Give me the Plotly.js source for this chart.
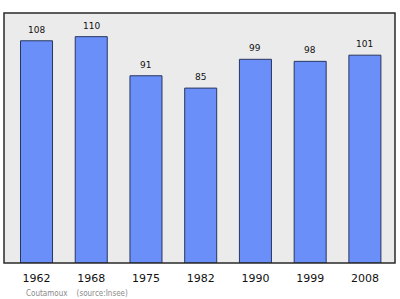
<!DOCTYPE html>
<html>
<head>
<meta charset="utf-8">
<script src="https://cdn.plot.ly/plotly-3.0.1.min.js"></script>
<style>html,body{margin:0;padding:0;background:#fff;}#chart{width:400px;height:299px;}</style>
</head>
<body>
<div id="chart"></div>
<script>
// Population by census year
const years = ['1962', '1968', '1975', '1982', '1990', '1999', '2008'];
const population = [108, 110, 91, 85, 99, 98, 101];
const footnote = 'Coutamoux\u00a0\u00a0\u00a0\u00a0(source:Insee)';

const trace = {
  type: 'bar',
  x: years,
  y: population,
  marker: {color: '#6a8ff8', line: {color: '#283660', width: 1}},
  width: 0.585,
  hoverinfo: 'none'
};

// value labels floating above each bar (x given as category index)
const valueLabels = years.map((yr, i) => ({
  x: i,
  y: population[i],
  xref: 'x', yref: 'y',
  text: String(population[i]),
  showarrow: false,
  yanchor: 'bottom',
  yshift: 4,
  font: {family: 'DejaVu Sans', size: 9, color: '#111'}
}));

const layout = {
  width: 400,
  height: 299,
  margin: {l: 4, r: 5, t: 13, b: 36},
  paper_bgcolor: '#ffffff',
  plot_bgcolor: '#ebebeb',
  showlegend: false,
  xaxis: {
    type: 'category',
    range: [-0.594, 6.55],
    showgrid: false,
    zeroline: false,
    showline: false,
    ticks: '',
    ticklabelstandoff: 7,
    tickfont: {family: 'DejaVu Sans', size: 11, color: '#111'},
    fixedrange: true
  },
  yaxis: {
    range: [0, 121.5],
    showgrid: false,
    zeroline: false,
    showline: false,
    showticklabels: false,
    ticks: '',
    fixedrange: true
  },
  shapes: [{
    type: 'rect', xref: 'paper', yref: 'paper',
    x0: 0, x1: 1, y0: 0, y1: 1,
    line: {color: '#2a2a2a', width: 1.5}
  }],
  annotations: valueLabels.concat([{
    text: footnote,
    xref: 'paper', yref: 'paper',
    x: 0.051, y: -0.12,
    xanchor: 'left', yanchor: 'middle',
    showarrow: false,
    font: {family: 'Liberation Sans Narrow, DejaVu Sans Condensed, sans-serif', size: 8, color: '#8a8a8a'}
  }])
};

Plotly.newPlot('chart', [trace], layout, {staticPlot: true, displayModeBar: false});
</script>
</body>
</html>
